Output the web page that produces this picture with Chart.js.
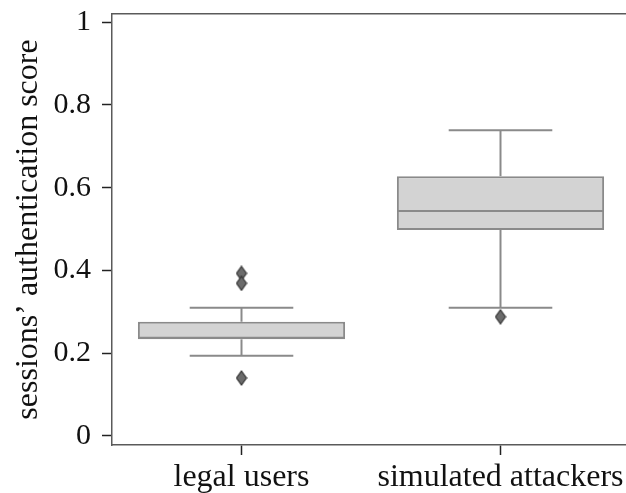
<!DOCTYPE html>
<html>
<head>
<meta charset="utf-8">
<style>
  html, body { margin: 0; padding: 0; overflow: hidden; background: #fff; }
  #wrap { width: 637px; height: 493px; }
</style>
<script src="https://cdn.jsdelivr.net/npm/chart.js@4"></script>
</head>
<body>
<div id="wrap"><canvas id="c" width="637" height="493"></canvas></div>
<script>
// Session authentication scores, summarised per group
const categories = ['legal users', 'simulated attackers'];
const q1 = [0.2335, 0.498];
const medians = [0.2375, 0.544];
const q3 = [0.276, 0.628];
const whiskerLow = [0.194, 0.310];
const whiskerHigh = [0.310, 0.739];
const outliers = [[0.393, 0.369, 0.140], [0.288]];
const yTicks = [0, 0.2, 0.4, 0.6, 0.8, 1];
const yTickLabels = ['0', '0.2', '0.4', '0.6', '0.8', '1'];

const FONT = 'Liberation Serif';
const BOX_FILL = '#d3d3d3';
const BOX_LINE = '#8a8a8a';
const SPINE = '#5a5a5a';
const TICK = '#222222';

// thin diamond marker used for fliers
function diamondMarker() {
  const cv = document.createElement('canvas');
  cv.width = 12; cv.height = 16;
  const g = cv.getContext('2d');
  g.beginPath();
  g.moveTo(6, 1); g.lineTo(11, 8); g.lineTo(6, 15); g.lineTo(1, 8); g.closePath();
  g.fillStyle = '#6b6b6b';
  g.fill();
  g.lineWidth = 1.2;
  g.strokeStyle = '#333333';
  g.stroke();
  return cv;
}

const flierPoints = [];
outliers.forEach((vals, i) => vals.forEach(v => flierPoints.push({ x: categories[i], y: v })));

// whiskers, caps and median lines drawn through the chart scales
const whiskerPlugin = {
  id: 'whiskers',
  afterDatasetsDraw(chart) {
    const { ctx, scales: { x, y } } = chart;
    const step = x.getPixelForValue(1) - x.getPixelForValue(0);
    const boxHalf = step * 0.4;
    const capHalf = step * 0.2;
    ctx.save();
    ctx.strokeStyle = BOX_LINE;
    ctx.lineWidth = 2;
    ctx.lineCap = 'butt';
    categories.forEach((c, i) => {
      const cx = x.getPixelForValue(i);
      const line = (x0, y0, x1, y1) => { ctx.beginPath(); ctx.moveTo(x0, y0); ctx.lineTo(x1, y1); ctx.stroke(); };
      line(cx, y.getPixelForValue(q3[i]), cx, y.getPixelForValue(whiskerHigh[i]));
      line(cx, y.getPixelForValue(q1[i]), cx, y.getPixelForValue(whiskerLow[i]));
      line(cx - capHalf, y.getPixelForValue(whiskerHigh[i]), cx + capHalf, y.getPixelForValue(whiskerHigh[i]));
      line(cx - capHalf, y.getPixelForValue(whiskerLow[i]), cx + capHalf, y.getPixelForValue(whiskerLow[i]));
      line(cx - boxHalf + 1, y.getPixelForValue(medians[i]), cx + boxHalf - 1, y.getPixelForValue(medians[i]));
    });
    ctx.restore();
  }
};

new Chart(document.getElementById('c'), {
  type: 'bar',
  data: {
    labels: categories,
    datasets: [
      {
        type: 'bar',
        data: categories.map((c, i) => [q1[i], q3[i]]),
        backgroundColor: BOX_FILL,
        borderColor: BOX_LINE,
        borderWidth: 2,
        borderSkipped: false,
        barPercentage: 0.8,
        categoryPercentage: 1.0,
        order: 2
      },
      {
        type: 'scatter',
        data: flierPoints,
        pointStyle: diamondMarker(),
        pointRadius: 6,
        order: 1
      }
    ]
  },
  options: {
    responsive: false,
    devicePixelRatio: 1,
    animation: false,
    layout: { padding: { top: 14, left: 0, right: 0, bottom: 0 } },
    plugins: { legend: { display: false }, tooltip: { enabled: false } },
    scales: {
      x: {
        type: 'category',
        offset: true,
        grid: { display: true, drawOnChartArea: false, offset: false, tickLength: 10, color: TICK, tickWidth: 1.5 },
        border: { display: true, color: SPINE, width: 1.5 },
        ticks: { font: { family: FONT, size: 32 }, color: '#111', padding: 3, maxRotation: 0 },
        afterBuildTicks(scale) { scale.ticks = categories.map((c, i) => ({ value: i })); },
        afterFit(scale) { scale.height = 48; scale.paddingLeft = 0; scale.paddingRight = 0; }
      },
      x2: {
        type: 'category',
        position: 'top',
        labels: categories,
        grid: { display: false },
        ticks: { display: false },
        border: { display: true, color: SPINE, width: 1.5 },
        afterFit(scale) { scale.height = 0; scale.paddingLeft = 0; scale.paddingRight = 0; }
      },
      y: {
        type: 'linear',
        min: -0.022,
        max: 1.02,
        grid: { display: true, drawOnChartArea: false, tickLength: 10, color: TICK, tickWidth: 1.5 },
        border: { display: true, color: SPINE, width: 1.5 },
        afterBuildTicks(scale) { scale.ticks = yTicks.map(v => ({ value: v })); },
        ticks: {
          font: { family: FONT, size: 30 },
          color: '#111',
          padding: 11,
          callback: (v) => yTickLabels[yTicks.indexOf(v)] ?? ''
        },
        title: {
          display: true,
          text: 'sessions’ authentication score',
          font: { family: FONT, size: 32 },
          color: '#111',
          padding: { top: 9, bottom: 0 }
        },
        afterFit(scale) { scale.width = 112; scale.paddingTop = 0; scale.paddingBottom = 0; }
      }
    }
  },
  plugins: [whiskerPlugin]
});
</script>
</body>
</html>
